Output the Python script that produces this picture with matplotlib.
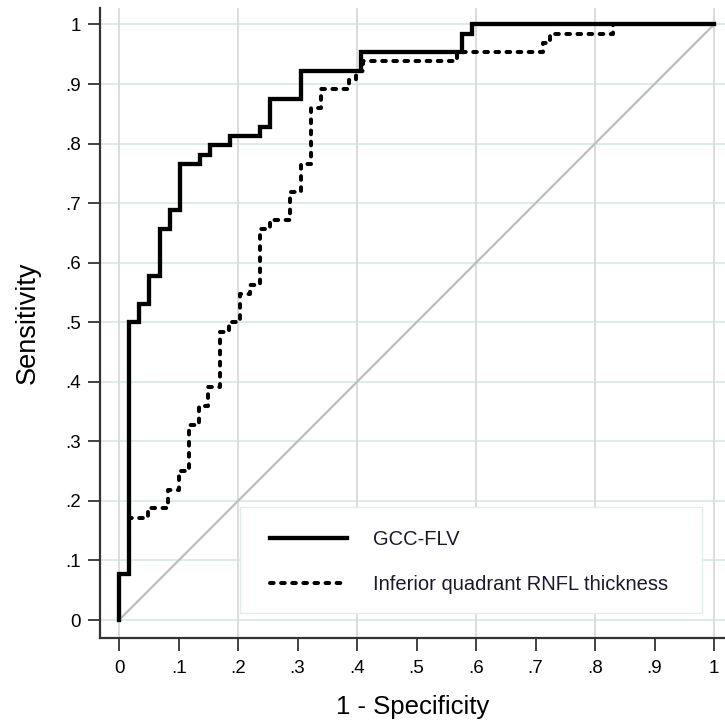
import matplotlib
matplotlib.use("Agg")
import matplotlib.pyplot as plt
from matplotlib.patches import Rectangle

plt.rcParams['font.family'] = ['Liberation Sans', 'DejaVu Sans']
plt.rcParams['lines.scale_dashes'] = False

# ROC step corners (x of each vertical jump, new sensitivity level)
gcc_fpr = [0, 0, 0.017, 0.034, 0.051, 0.068, 0.085, 0.102, 0.136, 0.153,
           0.186, 0.237, 0.254, 0.305, 0.407, 0.576, 0.593, 1.0]
gcc_tpr = [0, 0.078, 0.5, 0.531, 0.578, 0.656, 0.688, 0.766, 0.781, 0.797,
           0.813, 0.828, 0.875, 0.922, 0.953, 0.984, 1.0, 1.0]

rnfl_fpr = [0, 0, 0.017, 0.048, 0.083, 0.1, 0.118, 0.134, 0.15, 0.169,
            0.185, 0.203, 0.22, 0.237, 0.254, 0.288, 0.305, 0.322, 0.339,
            0.386, 0.398, 0.41, 0.568, 0.712, 0.725, 0.831, 1.0]
rnfl_tpr = [0, 0.078, 0.172, 0.1875, 0.219, 0.25, 0.328, 0.359, 0.391, 0.484,
            0.5, 0.547, 0.5625, 0.656, 0.672, 0.719, 0.766, 0.859, 0.891,
            0.906, 0.922, 0.938, 0.953, 0.969, 0.984, 1.0, 1.0]

ticks = [i / 10 for i in range(11)]
tick_labels = ['0', '.1', '.2', '.3', '.4', '.5', '.6', '.7', '.8', '.9', '1']

fig = plt.figure(figsize=(7.25, 7.26), dpi=100)
ax = fig.add_axes([0.138, 0.1212, 0.862, 0.8678])

# grid: horizontal every .1, vertical every .2
for t in ticks:
    ax.axhline(t, color='#dde8e8', lw=1.3, zorder=0)
for t in ticks[::2]:
    ax.axvline(t, color='#d9d9d9', lw=1.3, zorder=0)

ax.plot([0, 1], [0, 1], color='#bdbdbd', lw=1.6, zorder=1)

ax.plot(gcc_fpr, gcc_tpr, drawstyle='steps-post', color='black', lw=3.1,
        solid_joinstyle='miter', label='GCC-FLV', zorder=3)
ax.plot(rnfl_fpr, rnfl_tpr, drawstyle='steps-post', color='black', lw=2.9,
        linestyle=(0, (2.6, 5.4)), dash_capstyle='round',
        label='Inferior quadrant RNFL thickness', zorder=2)

ax.set_xlim(-0.032, 1.0185)
ax.set_ylim(-0.0302, 1.0277)
ax.set_xticks(ticks)
ax.set_xticklabels(tick_labels)
ax.set_yticks(ticks)
ax.set_yticklabels(tick_labels)
ax.tick_params(direction='out', length=9, width=1.3, color='#333333',
               labelsize=13.5, pad=5)
ax.tick_params(axis='x', pad=7)

for s in ['top', 'right']:
    ax.spines[s].set_visible(False)
for s in ['left', 'bottom']:
    ax.spines[s].set_color('#333333')
    ax.spines[s].set_linewidth(1.6)

ax.set_xlabel('1 - Specificity', fontsize=18.5, labelpad=13)
ax.set_ylabel('Sensitivity', fontsize=19.5, labelpad=17)

# legend box drawn as an opaque white panel, legend itself without frame
ax.add_patch(Rectangle((0.224, 0.0397), 0.739, 0.168, transform=ax.transAxes,
                       facecolor='white', edgecolor='#e3ebeb', lw=1.0,
                       zorder=4))
leg = ax.legend(loc='upper left', bbox_to_anchor=(0.272, 0.172),
                frameon=False, fontsize=14.5, handlelength=3.8,
                handletextpad=1.3, borderpad=0, labelspacing=1.3,
                borderaxespad=0)
leg.set_zorder(5)
for txt in leg.get_texts():
    txt.set_color('#1a1a2a')

plt.savefig('out.png', dpi=100)
